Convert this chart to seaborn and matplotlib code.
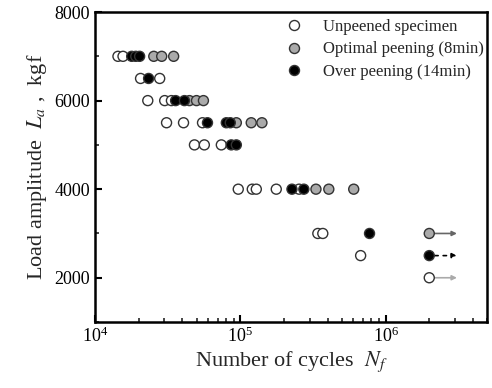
import seaborn as sns
import pandas as pd
import matplotlib.pyplot as plt
import numpy as np
from matplotlib.ticker import MultipleLocator, LogLocator, NullFormatter

#-----------------------------------------------------------------------------------------------------------------------
"""Data read off the picture"""
# Unpeened specimen
unpeened_N = [14400, 15600, 20600, 27900, 23100, 30200, 33600, 31100, 40700, 55000,
              48400, 56600, 74100, 96900, 121000, 129000, 177000, 254000, 342000, 370000, 674000]
unpeened_L = [7000, 7000, 6500, 6500, 6000, 6000, 6000, 5500, 5500, 5500,
              5000, 5000, 5000, 4000, 4000, 4000, 4000, 4000, 3000, 3000, 2500]

# Optimal peening (8min)
optimal_N = [25400, 28800, 34800, 44700, 50000, 55800, 94000, 119000, 141000, 332000, 407000, 604000]
optimal_L = [7000, 7000, 7000, 6000, 6000, 6000, 5500, 5500, 5500, 4000, 4000, 4000]

# Over peening (14min)
over_N = [17900, 19100, 20300, 23400, 35900, 41300, 59500, 80200, 85400, 86700, 94000, 227000, 274000, 776000]
over_L = [7000, 7000, 7000, 6500, 6000, 6000, 5500, 5500, 5500, 5000, 5000, 4000, 4000, 3000]

# Run-outs (no failure), drawn with arrows
runout_N = [2.0e6, 2.0e6, 2.0e6]
runout_L = [3000, 2500, 2000]
runout_group = ['Optimal peening (8min)', 'Over peening (14min)', 'Unpeened specimen']
runout_end = 3.1e6

labels = ['Unpeened specimen', 'Optimal peening (8min)', 'Over peening (14min)']
colors = ['white', '#aaaaaa', 'black']

#-----------------------------------------------------------------------------------------------------------------------
"""Building the DataFrame"""
df = pd.concat([
    pd.DataFrame({'N': unpeened_N, 'L': unpeened_L, 'group': labels[0]}),
    pd.DataFrame({'N': optimal_N, 'L': optimal_L, 'group': labels[1]}),
    pd.DataFrame({'N': over_N, 'L': over_L, 'group': labels[2]}),
])
dfRUN = pd.DataFrame({'N': runout_N, 'L': runout_L, 'group': runout_group})

#-----------------------------------------------------------------------------------------------------------------------
"""Creating the Figure"""
sns.set_style('ticks')
plt.rcParams['font.family'] = ['Liberation Serif', 'DejaVu Serif']
plt.rcParams['mathtext.fontset'] = 'stix'

fig = plt.figure(figsize=(4.92, 3.88), dpi=100)
ax = fig.add_axes([0.193, 0.170, 0.797, 0.799])

palette = dict(zip(labels, colors))
sns.scatterplot(data=df, x='N', y='L', hue='group', hue_order=labels, palette=palette,
                s=52, edgecolor='#333333', linewidth=1, ax=ax, zorder=3)
sns.scatterplot(data=dfRUN, x='N', y='L', hue='group', hue_order=labels, palette=palette,
                s=52, edgecolor='#333333', linewidth=1, ax=ax, legend=False, zorder=4)

# arrows for the run-outs
arrow_style = {labels[1]: ('#666666', '-'), labels[2]: ('black', (0, (2, 3))), labels[0]: ('#aaaaaa', '-')}
for n, l, g in zip(runout_N, runout_L, runout_group):
    c, ls = arrow_style[g]
    ax.annotate('', xy=(runout_end, l), xytext=(n, l),
                arrowprops=dict(arrowstyle='-|>', color=c, lw=1.2, linestyle=ls,
                                mutation_scale=7, shrinkA=4, shrinkB=0), zorder=2)

#-----------------------------------------------------------------------------------------------------------------------
"""Making the graph look nice"""
ax.set_xscale('log')
ax.set_xlim(1e4, 5e6)
ax.set_ylim(1000, 8000)
ax.yaxis.set_major_locator(MultipleLocator(2000))
ax.yaxis.set_minor_locator(MultipleLocator(1000))
ax.xaxis.set_major_locator(LogLocator(base=10, numticks=10))
ax.xaxis.set_minor_locator(LogLocator(base=10, subs=np.arange(2, 10), numticks=20))
ax.xaxis.set_minor_formatter(NullFormatter())

ax.set_xlabel('Number of cycles  $N_f$', fontsize=16, labelpad=2)
ax.set_ylabel('Load amplitude  $L_a$ ,  kgf', fontsize=16, labelpad=4)
ax.tick_params(axis='both', which='major', direction='in', length=5, width=1.5, labelsize=13, colors='black')
ax.tick_params(axis='both', which='minor', direction='in', length=3, width=1.2)
for sp in ax.spines.values():
    sp.set_linewidth(1.8)
    sp.set_color('black')

leg = ax.legend(loc='upper right', bbox_to_anchor=(1.012, 1.005), frameon=False, fontsize=12,
                handletextpad=0.7, labelspacing=0.4, borderaxespad=0.1, markerscale=1.0)

#-----------------------------------------------------------------------------------------------------------------------
"""Saving the Graph"""
fig.savefig('out.png', dpi=100)
